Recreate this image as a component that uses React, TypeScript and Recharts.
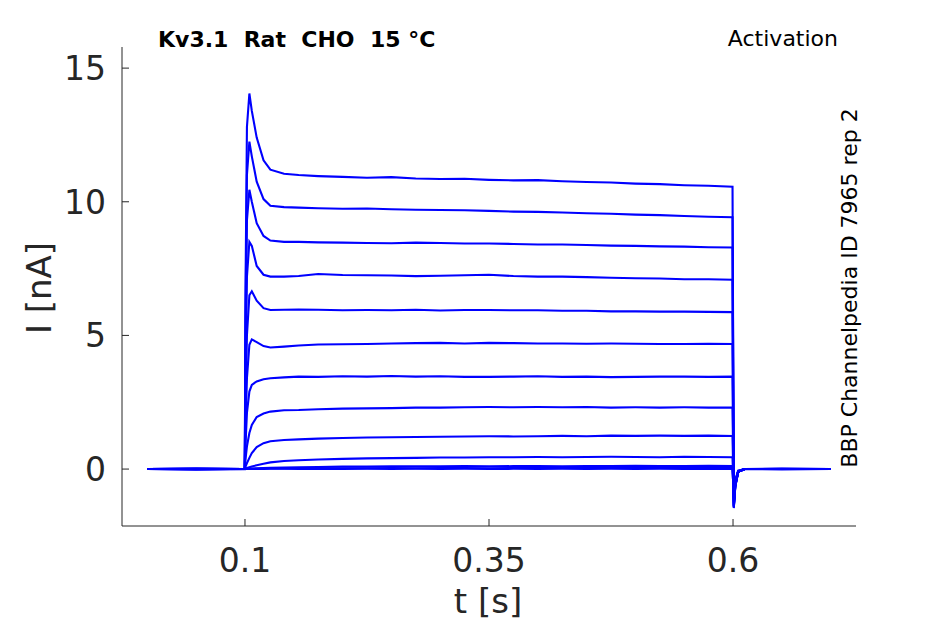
import { Line, LineChart, XAxis, YAxis } from "recharts";

// time base shared by all sweeps, in seconds
const TIME = [
  0, 0.05, 0.0998, 0.1005, 0.102, 0.1045, 0.107, 0.112, 0.119, 0.126, 0.14,
  0.155, 0.175, 0.2, 0.225, 0.25, 0.275, 0.3, 0.325, 0.35, 0.375, 0.4, 0.425,
  0.45, 0.475, 0.5, 0.525, 0.55, 0.575, 0.5995, 0.6008, 0.6023, 0.6053, 0.612,
  0.65, 0.7,
];

// current in nA, one array per voltage step (largest first)
const SWEEP_1 = [
  0, 0.02, 0, 6.5, 12.8, 14.05, 13.4, 12.4, 11.55, 11.2, 11.05, 11.0, 10.96,
  10.93, 10.9, 10.92, 10.87, 10.85, 10.86, 10.82, 10.8, 10.81, 10.77, 10.74,
  10.72, 10.68, 10.66, 10.62, 10.6, 10.56, -1.46, -0.66, -0.1, 0, 0.02, 0,
];
const SWEEP_2 = [
  0, -0.02, 0, 5.5, 11.0, 12.25, 11.7, 10.75, 10.1, 9.85, 9.8, 9.78, 9.76,
  9.74, 9.75, 9.72, 9.7, 9.69, 9.68, 9.66, 9.63, 9.62, 9.6, 9.57, 9.55, 9.52,
  9.5, 9.47, 9.44, 9.42, -1.44, -0.65, -0.1, 0, 0, 0,
];
const SWEEP_3 = [
  0, 0.01, 0, 4.5, 9.3, 10.45, 10.0, 9.2, 8.72, 8.55, 8.5, 8.5, 8.48, 8.47,
  8.46, 8.45, 8.47, 8.46, 8.44, 8.44, 8.42, 8.4, 8.4, 8.38, 8.36, 8.35, 8.33,
  8.32, 8.3, 8.29, -1.42, -0.64, -0.1, 0, 0.01, 0,
];
const SWEEP_4 = [
  0, 0, 0, 3.4, 7.2, 8.5, 8.35, 7.6, 7.27, 7.2, 7.2, 7.22, 7.3, 7.26, 7.25,
  7.24, 7.22, 7.23, 7.25, 7.27, 7.22, 7.2, 7.2, 7.18, 7.16, 7.14, 7.13, 7.1,
  7.1, 7.08, -1.4, -0.63, -0.1, 0, 0, 0,
];
const SWEEP_5 = [
  0, 0.01, 0, 2.2, 5.0, 6.5, 6.65, 6.3, 6.02, 5.95, 5.96, 5.97, 5.96, 5.94,
  5.95, 5.94, 5.96, 5.93, 5.95, 5.95, 5.94, 5.94, 5.92, 5.92, 5.9, 5.9, 5.89,
  5.89, 5.88, 5.87, -1.38, -0.62, -0.1, 0, -0.01, 0,
];
const SWEEP_6 = [
  0, 0, 0, 1.5, 3.4, 4.65, 4.85, 4.75, 4.6, 4.55, 4.58, 4.62, 4.66, 4.67, 4.68,
  4.7, 4.71, 4.72, 4.7, 4.72, 4.71, 4.7, 4.7, 4.69, 4.7, 4.69, 4.68, 4.68,
  4.69, 4.68, -1.35, -0.6, -0.1, 0, 0, 0,
];
const SWEEP_7 = [
  0, 0.01, 0, 0.9, 2.1, 2.9, 3.15, 3.28, 3.36, 3.4, 3.43, 3.46, 3.45, 3.47,
  3.46, 3.48, 3.46, 3.47, 3.45, 3.45, 3.46, 3.47, 3.45, 3.46, 3.44, 3.45, 3.46,
  3.46, 3.45, 3.46, -1.3, -0.58, -0.1, 0, 0, 0,
];
const SWEEP_8 = [
  0, 0, 0, 0.35, 0.85, 1.35, 1.65, 1.95, 2.08, 2.15, 2.2, 2.21, 2.24, 2.26,
  2.27, 2.28, 2.3, 2.3, 2.31, 2.32, 2.31, 2.32, 2.31, 2.32, 2.3, 2.31, 2.3,
  2.31, 2.3, 2.3, -1.25, -0.55, -0.1, 0, 0, 0,
];
const SWEEP_9 = [
  0, 0, 0, 0.08, 0.22, 0.42, 0.6, 0.82, 0.97, 1.04, 1.09, 1.11, 1.14, 1.16,
  1.18, 1.19, 1.2, 1.21, 1.22, 1.23, 1.22, 1.23, 1.24, 1.23, 1.25, 1.24, 1.25,
  1.24, 1.25, 1.24, -1.2, -0.52, -0.1, 0, 0, 0,
];
const SWEEP_10 = [
  0, 0, 0, 0.02, 0.04, 0.07, 0.1, 0.14, 0.2, 0.25, 0.3, 0.33, 0.36, 0.38, 0.4,
  0.41, 0.42, 0.43, 0.43, 0.44, 0.44, 0.45, 0.44, 0.45, 0.46, 0.45, 0.44, 0.46,
  0.45, 0.44, -1.15, -0.5, -0.08, 0, 0, 0,
];
const SWEEP_11 = [
  0, 0, 0, 0, 0.01, 0.02, 0.02, 0.03, 0.04, 0.05, 0.06, 0.07, 0.08, 0.09, 0.09,
  0.1, 0.1, 0.1, 0.11, 0.1, 0.11, 0.11, 0.1, 0.11, 0.11, 0.12, 0.11, 0.11,
  0.12, 0.11, -1.1, -0.48, -0.08, 0, 0, 0,
];
const SWEEP_12 = [
  0, 0.01, 0, 0, 0, 0.01, 0.01, 0.01, 0.02, 0.02, 0.02, 0.03, 0.03, 0.03, 0.03,
  0.04, 0.03, 0.04, 0.04, 0.03, 0.04, 0.04, 0.04, 0.04, 0.05, 0.04, 0.04, 0.05,
  0.04, 0.04, -1.05, -0.45, -0.07, 0, 0, 0,
];
const SWEEP_13 = [
  0, -0.01, 0, 0, 0, 0, 0, 0, 0, 0.01, 0.01, 0, 0.01, 0, 0.01, 0, 0.01, 0,
  0.01, 0, 0.01, 0, 0.01, 0, 0.01, 0, 0.01, 0, 0.01, 0, -1.0, -0.42, -0.06, 0,
  0, 0,
];

const SWEEPS = [
  SWEEP_1, SWEEP_2, SWEEP_3, SWEEP_4, SWEEP_5, SWEEP_6, SWEEP_7,
  SWEEP_8, SWEEP_9, SWEEP_10, SWEEP_11, SWEEP_12, SWEEP_13,
];

const X_TICKS = [0.1, 0.35, 0.6];
const Y_TICKS = [0, 5, 10, 15];

const TITLE = "Kv3.1  Rat  CHO  15 °C";
const PROTOCOL = "Activation";
const SOURCE = "BBP Channelpedia ID 7965 rep 2";

const rows = TIME.map((t, i) => {
  const row: Record<string, number> = { t };
  SWEEPS.forEach((s, k) => {
    row[`s${k}`] = s[i];
  });
  return row;
});

const W = 945;
const H = 624;
const MARGIN = { top: 47, right: 89, left: 22, bottom: 28 };
const Y_AXIS_WIDTH = 100;
const X_AXIS_HEIGHT = 70;
// where the axis lines end up
const AXIS_X = MARGIN.left + Y_AXIS_WIDTH;
const AXIS_Y = H - MARGIN.bottom - X_AXIS_HEIGHT;

const INK = "#262626";
const FONT = "DejaVu Sans";
const TRACE = "#0000ff";
const TICK_FONT = 33;
const TICK_LEN = 7;

// ticks point into the plot, as in MATLAB
function XTick(props: any) {
  const { x, payload } = props;
  return (
    <g>
      <line x1={x} x2={x} y1={AXIS_Y} y2={AXIS_Y - TICK_LEN} stroke={INK} strokeWidth={1} />
      <text x={x} y={AXIS_Y + 46} textAnchor="middle" fontFamily={FONT} fontSize={TICK_FONT} fill={INK}>
        {payload.value}
      </text>
    </g>
  );
}

function YTick(props: any) {
  const { y, payload } = props;
  return (
    <g>
      <line x1={AXIS_X} x2={AXIS_X + TICK_LEN} y1={y} y2={y} stroke={INK} strokeWidth={1} />
      <text x={AXIS_X - 16} y={y + 12} textAnchor="end" fontFamily={FONT} fontSize={TICK_FONT} fill={INK}>
        {payload.value}
      </text>
    </g>
  );
}

export default function App() {
  return (
    <div style={{ position: "absolute", left: 0, top: 0, width: W, height: H, background: "#fff" }}>
      <LineChart width={W} height={H} data={rows} margin={MARGIN}>
        <XAxis
          dataKey="t"
          type="number"
          domain={[-0.026, 0.726]}
          ticks={X_TICKS}
          allowDataOverflow
          height={X_AXIS_HEIGHT}
          tickLine={false}
          stroke={INK}
          tick={<XTick />}
        />
        <YAxis
          type="number"
          domain={[-2.13, 15.79]}
          ticks={Y_TICKS}
          allowDataOverflow
          width={Y_AXIS_WIDTH}
          tickLine={false}
          stroke={INK}
          tick={<YTick />}
        />
        {SWEEPS.map((_, k) => (
          <Line
            key={k}
            dataKey={`s${k}`}
            type="linear"
            stroke={TRACE}
            strokeWidth={2.1}
            dot={false}
            activeDot={false}
            isAnimationActive={false}
          />
        ))}
      </LineChart>
      <svg
        width={W}
        height={H}
        style={{ position: "absolute", left: 0, top: 0, pointerEvents: "none" }}
      >
        <text x={158} y={47} fontFamily={FONT} fontWeight="bold" fontSize={22} fill="#000" style={{ whiteSpace: "pre" }}>
          {TITLE}
        </text>
        <text x={838} y={46} textAnchor="end" fontFamily={FONT} fontSize={22} fill="#000">
          {PROTOCOL}
        </text>
        <text
          x={857}
          y={288}
          textAnchor="middle"
          transform="rotate(-90 857 288)"
          fontFamily={FONT}
          fontSize={22}
          fill="#000"
        >
          {SOURCE}
        </text>
        <text x={488} y={613} textAnchor="middle" fontFamily={FONT} fontSize={34} fill={INK}>
          t [s]
        </text>
        <text
          x={51}
          y={288}
          textAnchor="middle"
          transform="rotate(-90 51 288)"
          fontFamily={FONT}
          fontSize={34}
          fill={INK}
        >
          I [nA]
        </text>
      </svg>
    </div>
  );
}
